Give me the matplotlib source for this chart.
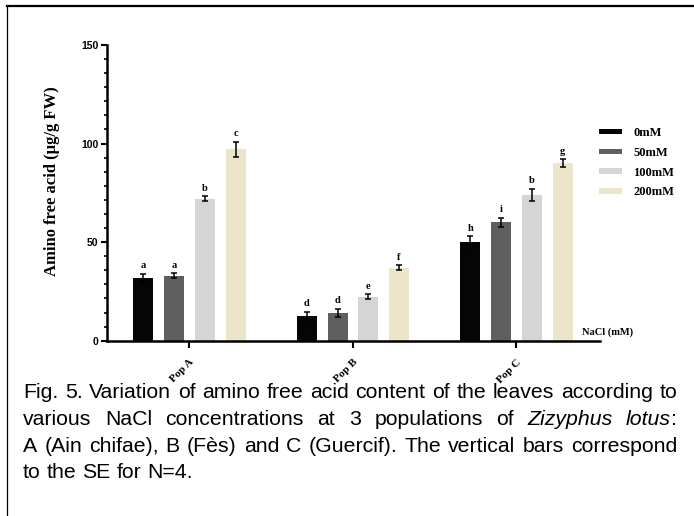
import matplotlib
matplotlib.use("Agg")
import matplotlib.pyplot as plt
import numpy as np
from matplotlib.lines import Line2D
from matplotlib.ticker import AutoMinorLocator

# --- data ---
populations = ["Pop A", "Pop B", "Pop C"]
treatments = ["0mM", "50mM", "100mM", "200mM"]

mean_0 = [32, 12.7, 50]
mean_50 = [33, 14, 60]
mean_100 = [72, 22.3, 74]
mean_200 = [97, 37, 90]

se_0 = [2, 2, 3]
se_50 = [1.2, 2.2, 2.3]
se_100 = [1.3, 1.4, 3.2]
se_200 = [4, 1.2, 2]

letters_0 = ["a", "d", "h"]
letters_50 = ["a", "d", "i"]
letters_100 = ["b", "e", "b"]
letters_200 = ["c", "f", "g"]

colors = ["#050505", "#5f5f5f", "#d5d5d5", "#ece5ca"]

caption_lines = [
    "Fig. 5. Variation of amino free acid content of the leaves according to",
    "various NaCl concentrations at 3 populations of _Zizyphus_ _lotus_:",
    "A (Ain chifae), B (Fès) and C (Guercif). The vertical bars correspond",
    "to the SE for N=4.",
]

SERIF = ["Liberation Serif", "DejaVu Serif"]
SANS = ["Liberation Sans", "DejaVu Sans"]

W, H = 694, 516
fig = plt.figure(figsize=(W / 100, H / 100), dpi=100)
fig.patch.set_facecolor("white")

# axes placed in pixel terms
x_left, x_right, y_top, y_bot = 106.7, 600, 45, 340.7
ax = fig.add_axes([x_left / W, 1 - y_bot / H, (x_right - x_left) / W, (y_bot - y_top) / H])

means = [mean_0, mean_50, mean_100, mean_200]
errs = [se_0, se_50, se_100, se_200]
letters = [letters_0, letters_50, letters_100, letters_200]

x = np.arange(len(populations))
pitch = 0.188
width = 0.122
bars = []
for i, t in enumerate(treatments):
    xs = x + (i - 1.5) * pitch
    b = ax.bar(xs, means[i], width, color=colors[i], label=t,
               yerr=errs[i], capsize=2.2,
               error_kw=dict(elinewidth=1.1, capthick=1.1, ecolor="black"))
    bars.append(b)
    for xi, m, e, lab in zip(xs, means[i], errs[i], letters[i]):
        ax.annotate(lab, (xi, m + e), xytext=(0, 2.5), textcoords="offset points",
                    ha="center", va="bottom", fontsize=7.5, family=SERIF,
                    fontweight="bold")

ax.set_xlim(-0.506, 2.511)
ax.set_ylim(0, 150)
ax.set_yticks([0, 50, 100, 150])
ax.yaxis.set_minor_locator(AutoMinorLocator(7))
ax.set_xticks(x)
ax.set_xticklabels(populations, rotation=45, ha="right", va="top",
                   rotation_mode="anchor", family=SERIF, fontweight="bold", fontsize=8)
for lab in ax.get_yticklabels():
    lab.set_family(SANS)
    lab.set_fontweight("bold")
    lab.set_fontsize(7.5)

for s in ["top", "right"]:
    ax.spines[s].set_visible(False)
for s in ["left", "bottom"]:
    ax.spines[s].set_linewidth(1.8)
ax.tick_params(axis="y", which="major", length=4, width=1.5, pad=2)
ax.tick_params(axis="y", which="minor", length=2.5, width=1.2)
ax.tick_params(axis="x", which="major", length=5, width=1.5, pad=7)

ax.set_ylabel("Amino free acid (µg/g FW)", family=SERIF, fontweight="bold", fontsize=12)
ax.yaxis.label.set_va("center")
ax.yaxis.set_label_coords((52 - x_left) / (x_right - x_left), (y_bot - 181) / (y_bot - y_top))

fig.text(582 / W, 1 - 331.7 / H, "NaCl (mM)", family=SERIF, fontweight="bold",
         fontsize=7.5, va="center", ha="left")

ax.legend(handles=bars, frameon=False, loc="upper left",
          bbox_to_anchor=(599 / W, 1 - 127 / H), bbox_transform=fig.transFigure,
          borderpad=0, borderaxespad=0, handlelength=1.85, handleheight=0.3,
          handletextpad=0.9, labelspacing=0.62,
          prop=dict(family=SERIF, weight="bold", size=9))

# frame lines of the figure panel
fig.add_artist(Line2D([7 / W, 7 / W], [0, 1 - 6 / H], transform=fig.transFigure,
                      color="black", lw=0.9))
fig.add_artist(Line2D([7 / W, 1], [1 - 6 / H, 1 - 6 / H], transform=fig.transFigure,
                      color="black", lw=1.6))

# --- justified caption ---
cap_x0, cap_x1 = 23, 677
baselines = [398.5, 425, 451.5, 478]
fig.canvas.draw()
renderer = fig.canvas.get_renderer()

# pick the size at which the first line fills the width with plain spaces
probe = fig.text(0, 0, caption_lines[0], fontsize=10, family=SANS)
cap_size = 10 * (cap_x1 - cap_x0) / probe.get_window_extent(renderer).width * 0.995
probe.remove()


def seg_text(s, style):
    return fig.text(0, 0, s, fontsize=cap_size, fontstyle=style, family=SANS,
                    va="baseline", ha="left")


probe_a = seg_text("xx", "normal")
probe_b = seg_text("x x", "normal")
space_w = probe_b.get_window_extent(renderer).width - probe_a.get_window_extent(renderer).width
probe_a.remove()
probe_b.remove()

for li, line in enumerate(caption_lines):
    words = []
    for w in line.split(" "):
        parts = w.split("_")
        segs = []
        for k, p in enumerate(parts):
            if not p:
                continue
            t = seg_text(p, "italic" if k % 2 else "normal")
            segs.append((t, t.get_window_extent(renderer).width))
        words.append(segs)
    total = sum(wd for segs in words for _, wd in segs)
    last = li == len(caption_lines) - 1
    gap = space_w if last else (cap_x1 - cap_x0 - total) / (len(words) - 1)
    xp = cap_x0
    yf = 1 - baselines[li] / H
    for segs in words:
        for t, wd in segs:
            t.set_position((xp / W, yf))
            xp += wd
        xp += gap

fig.savefig("out.png", dpi=100)
